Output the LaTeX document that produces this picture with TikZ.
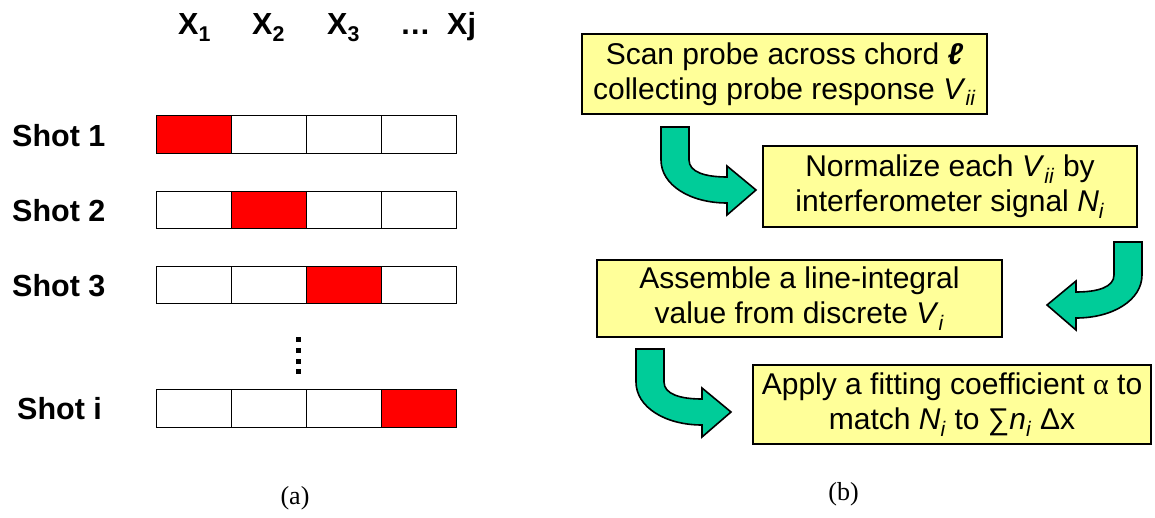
\documentclass[tikz,border=0pt]{standalone}
\usepackage{fontspec}
\setmainfont{Liberation Sans}
\newfontfamily\serifed{Liberation Serif}
\definecolor{boxyellow}{HTML}{FFFF99}
\definecolor{arrowgreen}{HTML}{00CC99}
\definecolor{cellred}{HTML}{FF0000}
\begin{document}
\begin{tikzpicture}[x=1pt,y=-1pt,
  stepbox/.style={draw=black, line width=1.6pt, fill=boxyellow, align=center,
    font=\fontsize{30}{35}\selectfont, inner sep=0pt},
  cell/.style={draw=black, line width=1pt, minimum width=75pt, minimum height=37.5pt, inner sep=0pt, fill=white},
  hot/.style={cell, fill=cellred},
  shotlabel/.style={font=\bfseries\fontsize{30.5}{34}\selectfont, anchor=base west, inner sep=0pt},
  head/.style={font=\bfseries\fontsize{30.5}{34}\selectfont, anchor=base west, inner sep=0pt},
  caption/.style={font=\serifed\fontsize{26}{30}\selectfont, inner sep=0pt},
  arrowshape/.style={draw=black, fill=arrowgreen, line width=1.6pt, line join=miter},
  bentr/.pic={\path[arrowshape]
    (0,0) -- (0,33) .. controls (0,58) and (29,76) .. (66,76) -- (66,88) -- (95,63)
    -- (66,39) -- (66,50) .. controls (44,50) and (28,45) .. (28,33) -- (28,0) -- cycle;},
  bentl/.pic={\path[arrowshape]
    (0,0) -- (0,33) .. controls (0,58) and (-29,76) .. (-66,76) -- (-66,88) -- (-95,63)
    -- (-66,39) -- (-66,50) .. controls (-44,50) and (-28,45) .. (-28,33) -- (-28,0) -- cycle;}
]
\useasboundingbox (0,0) rectangle (1155,518);

% ---- left panel: column headers
\node[head] (h1) at (178,35) {X\textsubscript{1}};
\node[head] (h2) at (252,35) {X\textsubscript{2}};
\node[head] (h3) at (327,35) {X\textsubscript{3}};
\node[head] (h4) at (400,35) {…};
\node[head] (h5) at (447,35) {Xj};

% ---- grid
\foreach \r/\y/\h in {1/134.5/1, 2/210/2, 3/285/3, 4/408.5/4} {
  \foreach \c in {1,...,4} {
    \ifnum\c=\h \def\st{hot}\else\def\st{cell}\fi
    \node[\st] (c\r\c) at ({156+75*(\c-0.5)}, \y) {};
  }
}

% ---- shot labels
\node[shotlabel] (s1) at (12,147) {Shot 1};
\node[shotlabel] (s2) at (12,222) {Shot 2};
\node[shotlabel] (s3) at (12,297) {Shot 3};
\node[shotlabel] (s4) at (17,419) {Shot i};

% ---- vertical dots
\foreach \yy in {337,348,359,369} { \fill (296,\yy) rectangle (300.5,\yy+4.5); }

\node[caption] (ca) at (295,498) {(a)};

% ---- right panel: boxes
\node[stepbox, minimum width=405pt, minimum height=80pt] (b1) at (784.5,74)
  {Scan probe across chord \textbf{\textit{ℓ}}\\collecting probe response \textit{V}\textsubscript{\textit{ii}}};
\node[stepbox, minimum width=374pt, minimum height=81pt] (b2) at (950,186.5)
  {Normalize each \textit{V}\textsubscript{\textit{ii}} by\\interferometer signal \textit{N}\textsubscript{\textit{i}}};
\node[stepbox, minimum width=405pt, minimum height=77pt] (b3) at (799.5,298.5)
  {Assemble a line-integral\\value from discrete \textit{V}\textsubscript{\textit{i}}};
\node[stepbox, minimum width=398pt, minimum height=79pt] (b4) at (952,404.5)
  {Apply a fitting coefficient {\serifed α} to\\match \textit{N}\textsubscript{\textit{i}} to ∑\textit{n}\textsubscript{\textit{i}} Δx};

% ---- bent arrows
\pic at (661,127) {bentr};
\pic at (1142,242) {bentl};
\pic at (636,349) {bentr};

\node[caption] (cb) at (843.5,494) {(b)};
\end{tikzpicture}
\end{document}
